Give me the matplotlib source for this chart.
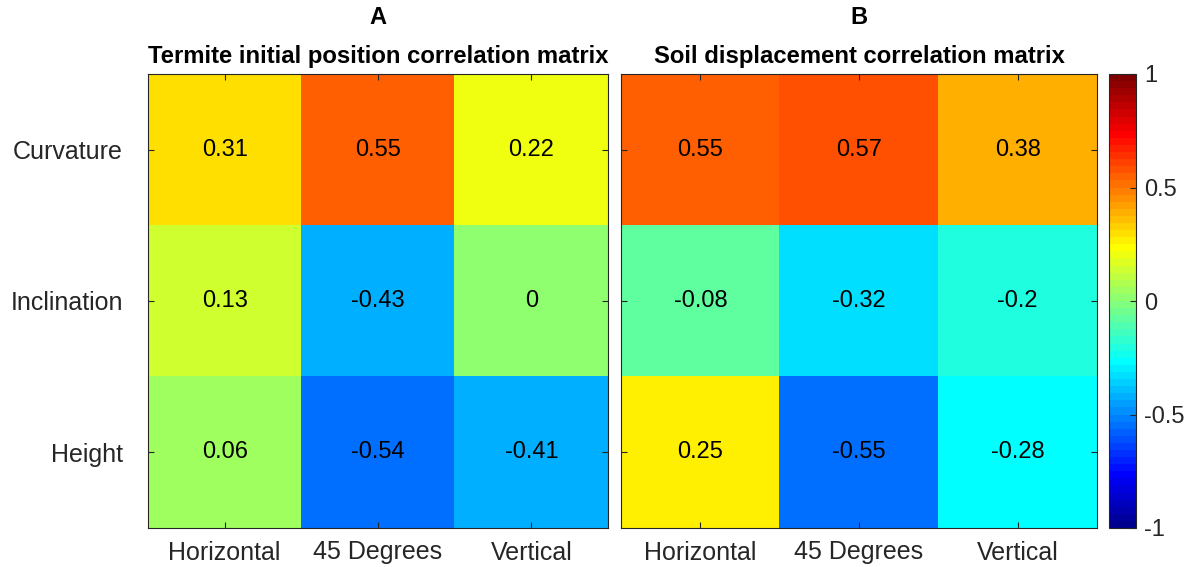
import numpy as np
import matplotlib
matplotlib.use("Agg")
import matplotlib.pyplot as plt
from matplotlib.colors import ListedColormap, Normalize

# ---- data ----
row_labels = ["Curvature", "Inclination", "Height"]
col_labels = ["Horizontal", "45 Degrees", "Vertical"]
termite_vals = [[0.31, 0.55, 0.217],
                [0.13, -0.43, 0.0],
                [0.06, -0.54, -0.41]]
soil_vals = [[0.55, 0.57, 0.38],
             [-0.08, -0.32, -0.2],
             [0.25, -0.55, -0.28]]
panel_letters = ["A", "B"]
panel_titles = ["Termite initial position correlation matrix",
                "Soil displacement correlation matrix"]
cbar_ticks = [-1, -0.5, 0, 0.5, 1]
cbar_ticklabels = ["-1", "-0.5", "0", "0.5", "1"]

FONT = "Liberation Sans"


def matlab_jet(m=64):
    n = int(np.ceil(m / 4))
    u = np.concatenate([np.arange(1, n + 1) / n, np.ones(n - 1), np.arange(n, 0, -1) / n])
    g = int(np.ceil(n / 2)) - (1 if m % 4 == 1 else 0) + np.arange(1, len(u) + 1)
    r = g + n
    b = g - n
    J = np.zeros((m, 3))
    for col, idx in ((0, r), (1, g), (2, b)):
        mask = (idx >= 1) & (idx <= m)
        J[idx[mask] - 1, col] = u[mask]
    return ListedColormap(J)


cmap = matlab_jet(64)
norm = Normalize(vmin=-1, vmax=1)

plt.rcParams["font.family"] = [FONT, "DejaVu Sans"]

W, H = 1191, 567
fig = plt.figure(figsize=(W / 100, H / 100), dpi=100)

edge = "#262626"
axes_px = [(148, 608), (621, 1097)]
top_px, bot_px = 74, 528

for k, (vals, (x0, x1)) in enumerate(zip([termite_vals, soil_vals], axes_px)):
    ax = fig.add_axes([x0 / W, 1 - bot_px / H, (x1 - x0) / W, (bot_px - top_px) / H])
    arr = np.array(vals)
    ax.imshow(arr, cmap=cmap, norm=norm, aspect="auto", interpolation="nearest")
    for i in range(arr.shape[0]):
        for j in range(arr.shape[1]):
            ax.text(j, i, f"{round(arr[i, j], 2):g}", ha="center", va="center",
                    fontsize=17, color="black")
    ax.set_xticks(range(len(col_labels)))
    ax.set_xticklabels(col_labels, fontsize=18, color="#262626")
    ax.set_yticks(range(len(row_labels)))
    if k == 0:
        ax.set_yticklabels(row_labels, fontsize=18, color="#262626")
    else:
        ax.set_yticklabels([])
    ax.tick_params(direction="in", length=4, width=0.8, color=edge,
                   top=True, right=True, bottom=True, left=True)
    ax.tick_params(axis="y", pad=18)
    ax.tick_params(axis="x", pad=9)
    for s in ax.spines.values():
        s.set_color(edge)
        s.set_linewidth(0.8)
    cx = (x0 + x1) / 2 / W
    fig.text(cx, 1 - 17 / H, panel_letters[k], ha="center", va="center",
             fontsize=17, fontweight="bold")
    fig.text(cx, 1 - 57 / H, panel_titles[k], ha="center", va="center",
             fontsize=17.2, fontweight="bold")

cax = fig.add_axes([1109 / W, 1 - bot_px / H, 27 / W, (bot_px - top_px) / H])
sm = matplotlib.cm.ScalarMappable(norm=norm, cmap=cmap)
cb = fig.colorbar(sm, cax=cax, ticks=cbar_ticks)
cb.ax.set_yticklabels(cbar_ticklabels, fontsize=17, color="#262626")
cb.ax.tick_params(direction="in", length=4, width=0.8, color=edge, pad=6)
cb.outline.set_edgecolor(edge)
cb.outline.set_linewidth(0.8)

fig.savefig("out.png", dpi=100)
